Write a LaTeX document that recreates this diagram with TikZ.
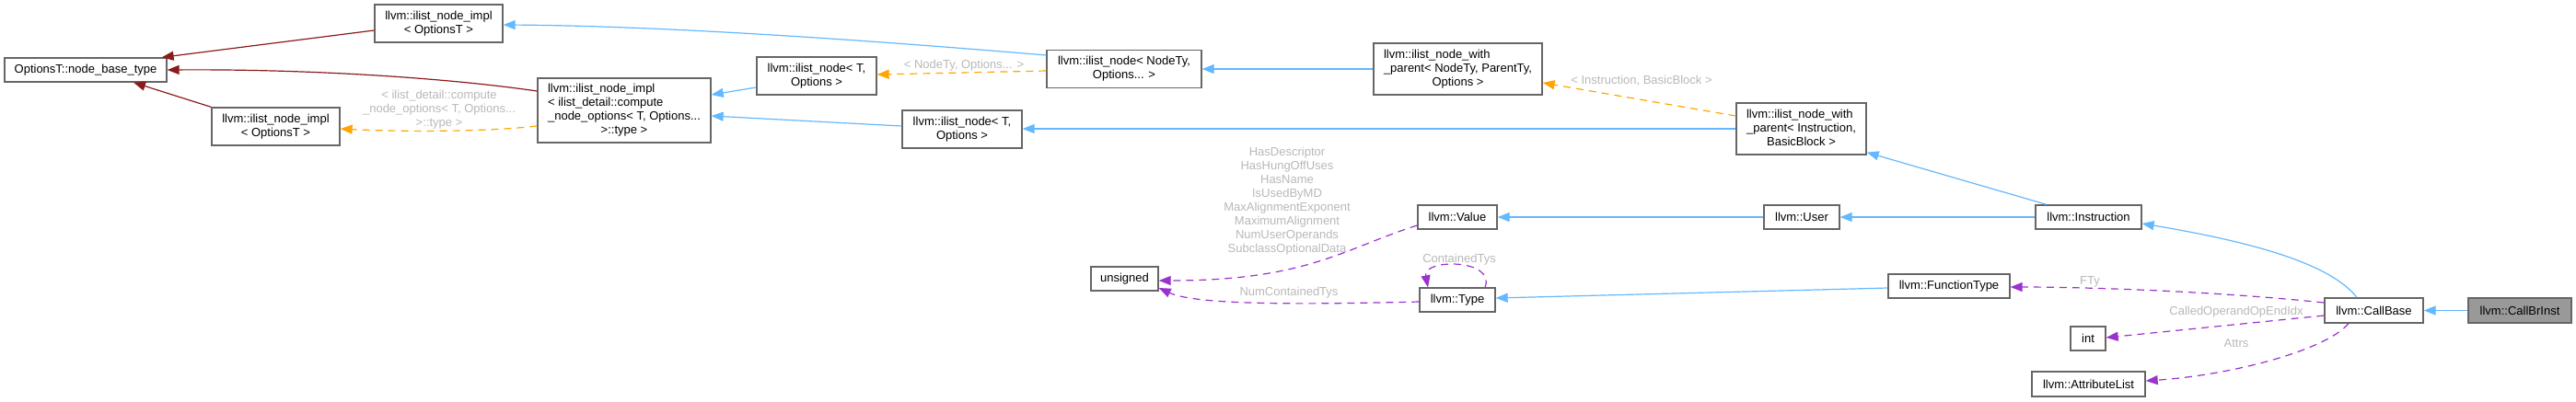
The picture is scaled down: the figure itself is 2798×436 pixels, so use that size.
\documentclass[tikz,border=0pt]{standalone}
\usepackage{fontspec}
\setmainfont{Liberation Sans}
\usetikzlibrary{arrows.meta,calc}
\definecolor{eblue}{HTML}{63B8FF}
\definecolor{ered}{HTML}{8B1A1A}
\definecolor{eorange}{HTML}{FFA500}
\definecolor{epurple}{HTML}{9A32CD}
\definecolor{lgray}{HTML}{B8B8B8}
\definecolor{bgray}{HTML}{666666}
\definecolor{cfill}{HTML}{999999}
\newcommand\lastc[1]{\multicolumn{1}{@{}c@{}}{#1}}
\tikzset{
  every node/.style={font=\fontsize{6.5}{7.5}\selectfont, inner sep=0pt},
  box/.style={draw=bgray, line width=0.65pt, fill=white, align=center},
  sz/.style 2 args={minimum width=#1*0.5pt, minimum height=#2*0.5pt},
  tip/.style={-{Triangle[length=6.5pt,width=5pt]}},
  inh/.style={tip, draw=eblue, line width=0.6pt, color=eblue},
  priv/.style={tip, draw=ered, line width=0.6pt, color=ered},
  tmpl/.style={tip, draw=eorange, line width=0.6pt, color=eorange, dash pattern=on 4pt off 3pt},
  use/.style={tip, draw=epurple, line width=0.6pt, color=epurple, dash pattern=on 4pt off 3pt},
  elab/.style={text=lgray, align=center},
}
\begin{document}
\begin{tikzpicture}[x=0.5pt,y=-0.5pt]
\useasboundingbox (0,0) rectangle (2798,436);
% nodes
\node[box,sz={176}{26}] (nbt) at (93,76) {OptionsT::node\_base\_type};
\node[box,sz={139}{41}] (implTop) at (476.5,25.5) {llvm::ilist\_node\_impl\\< OptionsT >};
\node[box,sz={139}{41}] (implLow) at (299.5,137.5) {llvm::ilist\_node\_impl\\< OptionsT >};
\node[box,sz={188}{70}] (implDet) at (678,120) {\begin{tabular}{@{}l@{}}llvm::ilist\_node\_impl\\< ilist\_detail::compute\\\_node\_options< T, Options...\\\lastc{>::type >}\end{tabular}};
\node[box,sz={130}{41}] (nodeUp) at (887,82.5) {llvm::ilist\_node< T,\\Options >};
\node[box,sz={168}{41}] (nodeNT) at (1221,75) {llvm::ilist\_node< NodeTy,\\Options... >};
\node[box,sz={130}{41}] (nodeLow) at (1045,140.5) {llvm::ilist\_node< T,\\Options >};
\node[box,sz={183}{56}] (wpNT) at (1583.5,75) {\begin{tabular}{@{}l@{}}llvm::ilist\_node\_with\\\_parent< NodeTy, ParentTy,\\\lastc{Options >}\end{tabular}};
\node[box,sz={141}{56}] (wpIB) at (1956.5,140) {\begin{tabular}{@{}l@{}}llvm::ilist\_node\_with\\\_parent< Instruction,\\\lastc{BasicBlock >}\end{tabular}};
\node[box,sz={73}{26}] (unsig) at (1221.5,303) {unsigned};
\node[box,sz={86}{26}] (value) at (1583,236) {llvm::Value};
\node[box,sz={82}{26}] (type) at (1583,326) {llvm::Type};
\node[box,sz={82}{26}] (user) at (1957,236) {llvm::User};
\node[box,sz={115}{26}] (instr) at (2268.5,236) {llvm::Instruction};
\node[box,sz={132}{26}] (ftype) at (2117,311) {llvm::FunctionType};
\node[box,sz={107}{27}] (callbase) at (2578.5,337.5) {llvm::CallBase};
\node[box,sz={112}{27},fill=cfill] (callbr) at (2737,337.5) {llvm::CallBrInst};
\node[box,sz={38}{26}] (int) at (2268,368) {int};
\node[box,sz={123}{27}] (attrs) at (2268.5,417.5) {llvm::AttributeList};
% edges
\draw[priv] ([yshift=-3.75pt]implTop.west) -- ([xshift=-3pt]nbt.north east);
\draw[priv] ([yshift=10.5pt]implDet.west) .. controls (480,84) and (330,75) .. (nbt.east);
\draw[priv] (implLow.north west) -- ([xshift=26pt]nbt.south);
\draw[tmpl] ([yshift=-8.5pt]implDet.west) .. controls (520,144) and (430,143) .. ([yshift=-1.25pt]implLow.east);
\node[elab] (l1) at (477,119) {< ilist\_detail::compute\\\_node\_options< T, Options...\\>::type >};
\draw[inh] ([yshift=7.5pt]nodeNT.west) .. controls (900,40) and (700,28) .. ([yshift=-0.75pt]implTop.east);
\draw[inh] ([yshift=-6.25pt]nodeUp.west) -- ([yshift=8.5pt]implDet.east);
\draw[inh] ([yshift=1.75pt]nodeLow.west) -- ([yshift=-3pt]implDet.east);
\draw[tmpl] ([yshift=-1pt]nodeNT.west) -- ([yshift=0.75pt]nodeUp.east);
\node[elab] (l2) at (1047,71) {< NodeTy, Options... >};
\draw[inh] (wpNT.west) -- (nodeNT.east);
\draw[inh] (wpIB.west) -- (wpIB.west -| nodeLow.east);
\draw[tmpl] ([yshift=7pt]wpIB.west) -- ([yshift=-7.5pt]wpNT.east);
\node[elab] (l3) at (1783,88) {< Instruction, BasicBlock >};
\draw[inh] ([xshift=-22.75pt]instr.north) -- ([yshift=1.5pt]wpIB.south east);
\draw[inh] (user.west) -- (value.east);
\draw[inh] (instr.west) -- (user.east);
\draw[inh] ([xshift=-9.25pt]callbase.north) .. controls (2530,285) and (2440,262) .. ([yshift=-3.5pt]instr.east);
\draw[inh] (callbr.west) -- (callbase.east);
\draw[inh] ([yshift=-1pt]ftype.west) -- ([yshift=1pt]type.east);
\draw[use] ([yshift=4.25pt]callbase.west) .. controls (2400,316) and (2260,312) .. ([yshift=-0.5pt]ftype.east);
\node[elab] (l4) at (2270,306) {FTy};
\draw[use] ([yshift=-2.75pt]callbase.west) -- ([yshift=0.5pt]int.east);
\node[elab] (l5) at (2429,339) {CalledOperandOpEndIdx};
\draw[use] ([xshift=-13.75pt]callbase.south) .. controls (2525,382) and (2420,408) .. ([yshift=1.75pt]attrs.east);
\node[elab] (l6) at (2429,373) {Attrs};
\draw[use] ([yshift=-4.5pt]value.west) .. controls (1460,270) and (1420,305) .. ([yshift=-1pt]unsig.east);
\node[elab] (l7) at (1398,219) {HasDescriptor\\HasHungOffUses\\HasName\\IsUsedByMD\\MaxAlignmentExponent\\MaximumAlignment\\NumUserOperands\\SubclassOptionalData};
\draw[use] ([yshift=-1pt]type.west) .. controls (1420,331) and (1300,332) .. ([yshift=-5pt]unsig.east);
\node[elab] (l8) at (1400,318) {NumContainedTys};
\draw[use] ([xshift=15pt]type.north) .. controls (1625,281) and (1545,281) .. ([xshift=-16pt]type.north);
\node[elab] (l9) at (1585,282) {ContainedTys};
\end{tikzpicture}
\end{document}
